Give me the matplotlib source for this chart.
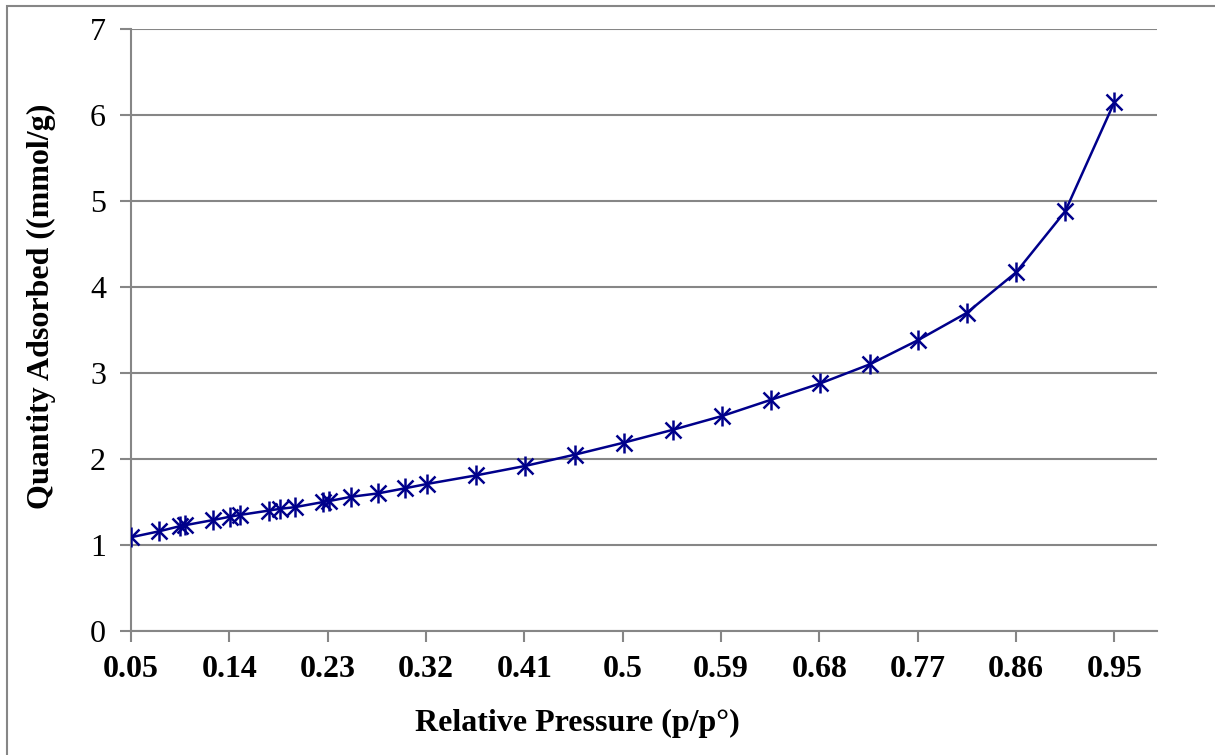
import matplotlib.pyplot as plt
from matplotlib.patches import Rectangle

# isotherm points
p_rel = [0.050, 0.076, 0.095, 0.0995, 0.125, 0.141, 0.150, 0.176, 0.186, 0.200,
         0.226, 0.231, 0.251, 0.276, 0.301, 0.321, 0.366, 0.411, 0.456, 0.501,
         0.546, 0.591, 0.636, 0.681, 0.726, 0.770, 0.815, 0.860, 0.905, 0.950]
qty = [1.09, 1.16, 1.22, 1.23, 1.29, 1.33, 1.35, 1.40, 1.42, 1.44,
       1.50, 1.51, 1.56, 1.60, 1.66, 1.71, 1.81, 1.92, 2.05, 2.19,
       2.34, 2.50, 2.69, 2.88, 3.10, 3.38, 3.70, 4.17, 4.88, 6.15]
xticks = [0.05, 0.14, 0.23, 0.32, 0.41, 0.50, 0.59, 0.68, 0.77, 0.86, 0.95]
xticklabels = ['0.05', '0.14', '0.23', '0.32', '0.41', '0.5', '0.59', '0.68', '0.77', '0.86', '0.95']

plt.rcParams['font.family'] = 'Liberation Serif'
W, H = 1215, 755
fig = plt.figure(figsize=(W / 100, H / 100), dpi=100)
ax = fig.add_axes([131 / W, 1 - 631 / H, (1157 - 131) / W, (631 - 29) / H])

col = '#00008B'
ax.plot(p_rel, qty, color=col, lw=1.8, zorder=3)
ax.plot(p_rel, qty, ls='none', marker='x', ms=11, mew=1.8, color=col, zorder=4)
ax.plot(p_rel, qty, ls='none', marker='|', ms=14, mew=1.8, color=col, zorder=4)

ax.set_xlim(0.05, 0.989)
ax.set_ylim(0, 7)
ax.set_xticks(xticks)
ax.set_xticklabels(xticklabels, fontsize=23, fontweight='bold')
ax.set_yticks(range(8))
ax.set_yticklabels([str(i) for i in range(8)], fontsize=23)

gray = '#868686'
ax.grid(axis='y', color=gray, lw=1.5)
ax.set_axisbelow(True)
for s in ['top', 'right']:
    ax.spines[s].set_visible(False)
for s in ['left', 'bottom']:
    ax.spines[s].set_color(gray)
    ax.spines[s].set_linewidth(1.5)
ax.tick_params(axis='both', color=gray, width=1.5, length=8, direction='out')
ax.tick_params(axis='x', pad=9)
ax.tick_params(axis='y', pad=10)

ax.set_xlabel('Relative Pressure (p/p°)', fontsize=23, fontweight='bold')
ax.set_ylabel('Quantity Adsorbed ((mmol/g)', fontsize=23, fontweight='bold')
ax.xaxis.set_label_coords(0.435, -0.13)
ax.yaxis.set_label_coords(-0.073, 0.54)

# chart area border
fig.patches.append(Rectangle((7 / W, -0.1), 1.2, 1 - 6 / H + 0.1, transform=fig.transFigure,
                             fill=False, edgecolor=gray, lw=1.5))

fig.savefig('out.png', dpi=100)
